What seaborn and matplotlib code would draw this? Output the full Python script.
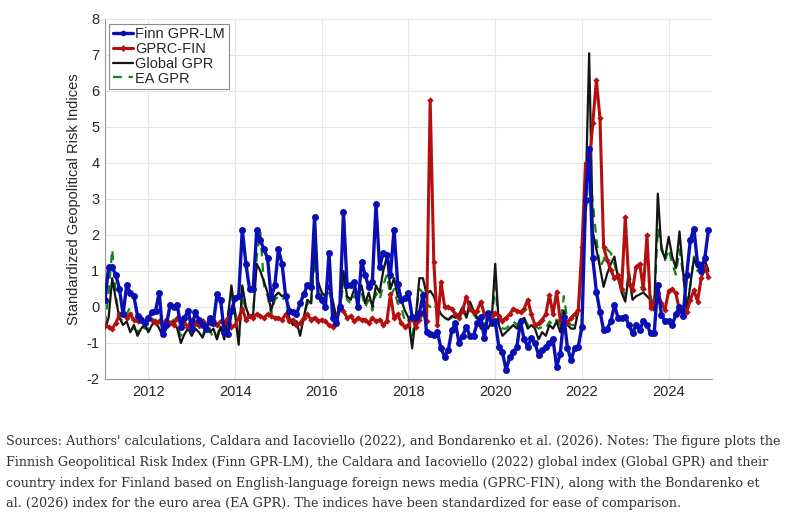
import numpy as np
import pandas as pd
import matplotlib
matplotlib.use("Agg")
import matplotlib.pyplot as plt
import seaborn as sns

# ---- data (monthly, Jan 2011 .. Dec 2024) ----
start_year = 2011
finn_gpr_lm = [
    0.2, 1.1, 1.1, 0.9, 0.5, -0.2, 0.6, 0.4, 0.3, -0.25, -0.35, -0.45,          # 2011
    -0.3, -0.15, -0.1, 0.4, -0.75, -0.5, 0.05, 0.0, 0.05, -0.55, -0.3, -0.1,    # 2012
    -0.6, -0.15, -0.35, -0.5, -0.6, -0.3, -0.45, 0.35, 0.2, -0.7, -0.75, -0.1,  # 2013
    0.25, 0.3, 2.15, 1.2, 0.5, 0.5, 2.15, 1.85, 1.6, 1.35, 0.25, 0.6,           # 2014
    1.6, 1.2, 0.3, -0.1, -0.15, -0.2, 0.1, 0.35, 0.6, 0.55, 2.5, 0.3,           # 2015
    0.2, 0.0, 1.5, -0.3, -0.45, 0.0, 2.65, 0.6, 0.6, 0.7, 0.0, 1.25,            # 2016
    0.9, 0.55, 0.7, 2.85, 1.1, 1.5, 1.45, 0.9, 2.15, 0.65, 0.2, 0.25,           # 2017
    0.38, -0.27, -0.3, -0.17, 0.33, -0.7, -0.75, -0.78, -0.7, -1.15, -1.38, -1.2,  # 2018
    -0.65, -0.45, -1.0, -0.8, -0.55, -0.8, -0.8, -0.45, -0.27, -0.87, -0.17, -0.45,  # 2019
    -0.4, -1.1, -1.25, -1.75, -1.4, -1.25, -1.1, -0.4, -0.9, -1.1, -0.87, -1.0,  # 2020
    -1.33, -1.2, -1.1, -1.0, -0.9, -1.66, -1.3, -0.27, -1.14, -1.47, -1.14, -1.1,  # 2021
    -0.55, 2.97, 4.4, 1.35, 0.43, -0.13, -0.64, -0.6, -0.4, 0.05, -0.3, -0.3,   # 2022
    -0.27, -0.5, -0.73, -0.5, -0.64, -0.4, -0.5, -0.73, -0.73, 0.6, -0.22, -0.4,  # 2023
    -0.4, -0.5, -0.2, 0.0, -0.25, 0.9, 1.86, 2.18, 1.2, 1.0, 1.35, 2.13,        # 2024
]
gprc_fin = [
    -0.5, -0.55, -0.6, -0.45, -0.2, -0.15, -0.3, -0.2, -0.35, -0.4, -0.3, -0.45,
    -0.3, -0.35, -0.45, -0.4, -0.5, -0.35, -0.45, -0.5, -0.3, -0.4, -0.45, -0.55,
    -0.35, -0.45, -0.5, -0.4, -0.55, -0.45, -0.35, -0.5, -0.4, -0.45, -0.3, -0.55,
    -0.5, -0.3, -0.05, -0.35, -0.25, -0.3, -0.2, -0.25, -0.3, -0.2, -0.25, -0.3,
    -0.3, -0.35, -0.2, -0.4, -0.35, -0.5, -0.45, -0.3, -0.2, -0.35, -0.3, -0.4,
    -0.35, -0.4, -0.5, -0.55, -0.35, 0.05, -0.1, -0.3, -0.25, -0.4, -0.3, -0.35,
    -0.35, -0.45, -0.3, -0.4, -0.35, -0.5, -0.4, 0.35, -0.3, -0.2, -0.45, -0.55,
    -0.5, -0.3, -0.55, -0.35, -0.15, -0.4, 5.75, 1.26, -0.5, 0.7, 0.0, 0.0,
    -0.05, -0.2, -0.3, -0.1, 0.29, -0.05, -0.15, -0.1, 0.15, -0.2, -0.3, -0.25,
    -0.17, -0.25, -0.38, -0.3, -0.2, -0.05, -0.1, -0.15, -0.05, 0.2, -0.2, -0.5,
    -0.45, -0.35, -0.2, 0.33, -0.2, 0.43, -0.36, -0.4, -0.45, -0.3, -0.2, -0.08,
    1.67, 3.99, 3.9, 5.1, 6.3, 5.24, 1.67, 1.3, 1.03, 0.8, 0.9, 0.5,
    2.5, 0.65, 0.47, 1.12, 1.2, 0.5, 2.0, -0.04, 0.1, 0.38, 0.1, -0.08,
    0.45, 0.5, 0.38, -0.1, -0.12, -0.15, 0.2, 0.47, 0.15, 0.8, 1.12, 0.84,
]
global_gpr = [
    -0.6, -0.3, 0.8, 0.2, -0.3, -0.5, -0.4, -0.7, -0.5, -0.8, -0.6, -0.5,
    -0.7, -0.5, -0.4, -0.6, -0.8, -0.6, -0.5, -0.4, -0.6, -1.0, -0.75, -0.6,
    -0.8, -0.6, -0.7, -0.85, -0.6, -0.7, -0.6, -0.9, -0.55, -0.9, -0.3, 0.6,
    -0.2, -1.05, 0.6, 0.0, -0.3, -0.2, 1.2, 1.0, 0.7, 0.4, -0.1, 0.3,
    0.4, 0.3, 0.35, -0.3, -0.5, -0.4, -0.8, -0.3, 0.2, 0.1, 1.6, 0.7,
    0.4, 0.3, 0.6, 0.2, -0.3, 0.0, 1.0, 0.3, 0.2, 0.5, 0.3, 0.6,
    0.1, 0.4, 0.0, 0.6, 0.4, 1.0, 1.4, 0.5, 0.8, 0.3, 0.2, -0.1,
    -0.3, -1.15, -0.3, 0.8, 0.8, 0.35, 0.45, 0.3, 0.0, -0.2, -0.3, -0.35,
    -0.25, -0.3, -0.2, 0.0, -0.3, 0.15, -0.1, -0.3, -0.6, -0.5, -0.6, -0.4,
    1.2, -0.5, -0.8, -0.7, -0.6, -0.5, -0.6, -0.4, -0.3, -0.6, -0.5, -0.6,
    -0.9, -0.7, -0.8, -0.5, -0.6, -0.4, -0.7, -0.1, -0.5, -0.6, -0.6, -0.1,
    1.5, 3.0, 7.05, 2.1, 1.6, 1.1, 0.56, 0.93, 1.2, 1.4, 0.8, 0.4,
    0.15, 0.9, 0.2, 0.3, 0.35, 0.4, 0.3, 0.2, -0.1, 3.15, 1.6, 1.35,
    1.95, 1.4, 1.08, 2.1, 1.0, -0.13, 0.6, 1.35, 1.1, 1.2, 1.3, 1.0,
]
ea_gpr = [
    -0.5, 0.4, 1.6, 0.3, -0.3, -0.4, -0.2, 0.0, -0.6, -0.7, -0.5, -0.6,
    -0.6, -0.4, -0.35, -0.5, -0.7, -0.5, -0.45, -0.35, -0.55, -0.8, -0.6, -0.55,
    -0.7, -0.5, -0.55, -0.8, -0.5, -0.6, -0.9, -0.8, -0.5, -0.8, -0.2, 0.3,
    -0.1, -0.9, 0.3, -0.1, -0.3, -0.2, 1.4, 2.1, 0.6, 0.3, -0.2, 0.2,
    0.3, 0.2, 0.3, -0.3, -0.4, -0.4, -0.6, -0.3, 0.1, 0.0, 1.3, 0.5,
    0.3, 0.2, 0.4, 0.1, -0.3, -0.1, 0.7, 0.2, 0.1, 0.3, 0.2, 0.4,
    0.0, 0.2, -0.1, 0.4, 0.2, 0.6, 0.9, 0.3, 0.5, 0.1, 0.0, -0.4,
    -0.35, -0.8, -0.3, 0.5, 0.4, 0.1, 0.0, 0.1, -0.1, -0.25, -0.3, -0.35,
    -0.3, -0.3, -0.25, -0.1, -0.3, 0.0, -0.2, -0.35, -0.5, -0.45, -0.5, -0.4,
    0.6, -0.45, -0.6, -0.6, -0.5, -0.4, -0.5, -0.35, -0.3, -0.5, -0.45, -0.5,
    -0.6, -0.55, -0.6, -0.4, -0.5, -0.35, -0.5, 0.3, -0.4, -0.5, -0.5, -0.1,
    1.2, 2.5, 4.0, 2.9, 1.9, 1.1, 1.3, 1.6, 1.5, 1.2, 0.8, 0.6,
    0.3, 1.0, 0.4, 0.5, 0.5, 0.6, 0.4, 0.3, 0.0, 2.2, 1.7, 1.3,
    1.6, 1.2, 0.9, 1.6, 0.9, 0.0, 0.6, 1.4, 1.0, 1.1, 1.3, 1.0,
]
series_names = ["Finn GPR-LM", "GPRC-FIN", "Global GPR", "EA GPR"]
x_ticks = [2012, 2014, 2016, 2018, 2020, 2022, 2024]
y_ticks = [-2, -1, 0, 1, 2, 3, 4, 5, 6, 7, 8]
y_label = "Standardized Geopolitical Risk Indices"
caption_lines = [
    "Sources: Authors' calculations, Caldara and Iacoviello (2022), and Bondarenko et al. (2026). Notes: The figure plots the",
    "Finnish Geopolitical Risk Index (Finn GPR-LM), the Caldara and Iacoviello (2022) global index (Global GPR) and their",
    "country index for Finland based on English-language foreign news media (GPRC-FIN), along with the Bondarenko et",
    "al. (2026) index for the euro area (EA GPR). The indices have been standardized for ease of comparison.",
]

n = len(finn_gpr_lm)
t = start_year + np.arange(n) / 12.0
df = pd.DataFrame({"t": t, "Finn GPR-LM": finn_gpr_lm, "GPRC-FIN": gprc_fin,
                   "Global GPR": global_gpr, "EA GPR": ea_gpr})

sns.set_style("white")
plt.rcParams["font.family"] = ["Liberation Sans", "DejaVu Sans"]

fig = plt.figure(figsize=(7.91, 5.15), dpi=100)
ax = fig.add_axes([105 / 791, 1 - 379 / 515, (712 - 105) / 791, (379 - 19) / 515])

blue = "#0a0fb4"
red = "#b4100f"
black = "#151515"
green = "#13851a"

sns.lineplot(data=df, x="t", y="EA GPR", ax=ax, color=green, lw=1.6,
             linestyle=(0, (4, 3)), zorder=2)
sns.lineplot(data=df, x="t", y="Global GPR", ax=ax, color=black, lw=1.6, zorder=3)
sns.lineplot(data=df, x="t", y="GPRC-FIN", ax=ax, color=red, lw=2.2, marker="D",
             markersize=3.2, markeredgewidth=0, zorder=4)
sns.lineplot(data=df, x="t", y="Finn GPR-LM", ax=ax, color=blue, lw=2.4, marker="o",
             markersize=5, markeredgewidth=0, zorder=5)

ax.set_xlim(2011, 2025)
ax.set_ylim(-2, 8)
ax.set_xticks(x_ticks)
ax.set_xticklabels([str(v) for v in x_ticks])
ax.set_yticks(y_ticks)
ax.set_yticklabels([str(v) for v in y_ticks])
ax.set_xlabel("")
ax.set_ylabel(y_label, fontsize=10.5, color="#262626", labelpad=4)
ax.grid(True, color="#e6e6e6", lw=0.8)
ax.set_axisbelow(True)
for s in ["top", "right"]:
    ax.spines[s].set_visible(False)
for s in ["left", "bottom"]:
    ax.spines[s].set_color("#9a9a9a")
    ax.spines[s].set_linewidth(0.8)
ax.tick_params(axis="both", direction="in", length=4, color="#9a9a9a",
               labelsize=10.5, labelcolor="#262626", pad=4)

from matplotlib.lines import Line2D
handles = [
    Line2D([], [], color=blue, lw=2.4, marker="o", markersize=4, markeredgewidth=0),
    Line2D([], [], color=red, lw=2.2, marker="D", markersize=3.5, markeredgewidth=0),
    Line2D([], [], color=black, lw=1.6),
    Line2D([], [], color=green, lw=1.6, linestyle=(0, (4, 3))),
]
leg = ax.legend(handles, series_names, loc="upper left", bbox_to_anchor=(0.002, 0.995),
                fontsize=10.5, frameon=True, fancybox=False, framealpha=1,
                edgecolor="#8c8c8c", handlelength=1.4, handletextpad=0.15,
                borderpad=0.25, labelspacing=0.05, borderaxespad=0.2)
leg.get_frame().set_linewidth(0.8)
for txt in leg.get_texts():
    txt.set_color("#262626")

# caption
fig.canvas.draw()
renderer = fig.canvas.get_renderer()
cap_fs = 9.0
probe = fig.text(0, 0, caption_lines[0], fontsize=cap_fs, family="DejaVu Serif")
w = probe.get_window_extent(renderer).width
probe.remove()
cap_fs = cap_fs * 778.0 / w
y0 = 442
for i, line in enumerate(caption_lines):
    fig.text(6 / 791, 1 - (y0 + i * 20.5) / 515, line, fontsize=cap_fs,
             family="DejaVu Serif", color="#333333", va="center", ha="left")

fig.savefig("out.png", dpi=100, facecolor="white")
